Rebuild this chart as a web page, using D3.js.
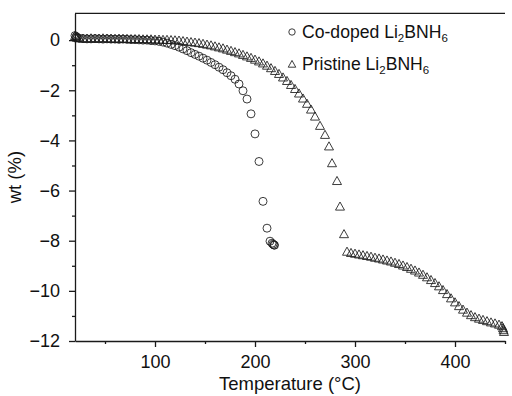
<!DOCTYPE html>
<html>
<head>
<meta charset="utf-8">
<script src="https://cdn.jsdelivr.net/npm/d3@7"></script>
<style>
  html, body { margin: 0; padding: 0; background: #fff; }
  svg { display: block; font-family: "Liberation Sans", Arial, sans-serif; }
</style>
</head>
<body>
<svg id="chart" width="512" height="396"></svg>
<script>
// ---- data ----
const codopedT = [20, 21, 22, 24, 28, 32, 36, 40, 44, 48, 52, 56, 60, 64, 68, 72, 76, 80, 84, 88, 92, 96,
  100, 104, 108, 112, 116, 120, 124, 128, 132, 136, 140, 144, 148, 152, 156, 160, 164, 168, 172, 176,
  180, 184, 188, 192, 196, 200, 204, 208, 212, 215, 217, 218, 219, 219.5];
const codopedWt = [0.18, 0.14, 0.1, 0.08, 0.06, 0.05, 0.05, 0.06, 0.05, 0.04, 0.05, 0.04, 0.04, 0.03, 0.04, 0.03, 0.02, 0.02, 0.01, 0.0, 0.0, -0.02,
  -0.03, -0.05, -0.08, -0.12, -0.17, -0.22, -0.28, -0.35, -0.42, -0.5, -0.57, -0.64, -0.72, -0.8, -0.89, -0.98, -1.08, -1.18, -1.3, -1.42,
  -1.56, -1.75, -2.02, -2.35, -2.94, -3.74, -4.84, -6.43, -7.5, -8.02, -8.1, -8.14, -8.17, -8.18];

const pristineT = [20, 21, 22, 24, 28, 32, 36, 40, 44, 48, 52, 56, 60, 64, 68, 72, 76, 80, 84, 88, 92, 96,
  100, 104, 108, 112, 116, 120, 124, 128, 132, 136, 140, 144, 148, 152, 156, 160, 164, 168, 172, 176,
  180, 184, 188, 192, 196, 200, 204, 208, 212, 216, 220, 224, 228, 232, 236, 240, 244, 248, 252, 256,
  260, 265, 270, 274, 277, 282, 285, 289, 292, 296, 300, 304, 308, 312, 316, 320, 324, 328, 332, 336,
  340, 344, 348, 352, 356, 360, 364, 368, 372, 376, 380, 384, 388, 392, 396, 400, 404, 408, 412, 416,
  420, 424, 428, 432, 436, 440, 444, 447, 448, 448.5, 449];
const pristineWt = [0.15, 0.12, 0.08, 0.06, 0.05, 0.05, 0.06, 0.05, 0.05, 0.06, 0.05, 0.05, 0.04, 0.05, 0.04, 0.04, 0.03, 0.03, 0.03, 0.02, 0.02, 0.02,
  0.01, 0.01, 0.0, 0.0, -0.01, -0.02, -0.03, -0.05, -0.07, -0.09, -0.11, -0.13, -0.16, -0.19, -0.22, -0.26, -0.3, -0.34, -0.39, -0.44,
  -0.49, -0.54, -0.6, -0.66, -0.72, -0.79, -0.86, -0.94, -1.03, -1.13, -1.24, -1.36, -1.5, -1.64, -1.8, -1.96, -2.14, -2.34, -2.55, -2.78,
  -3.06, -3.43, -3.79, -4.25, -4.92, -5.63, -6.65, -7.75, -8.45, -8.5, -8.53, -8.56, -8.59, -8.62, -8.65, -8.69, -8.72, -8.76, -8.8, -8.84,
  -8.89, -8.94, -9.0, -9.06, -9.13, -9.2, -9.28, -9.37, -9.47, -9.58, -9.7, -9.83, -9.98, -10.14, -10.31, -10.47, -10.62, -10.76, -10.88, -10.98,
  -11.06, -11.12, -11.17, -11.22, -11.27, -11.31, -11.36, -11.42, -11.5, -11.58, -11.65];

const xMajorTicks = [100, 200, 300, 400];
const xMinorTicks = [50, 150, 250, 350, 450];
const yMajorTicks = [0, -2, -4, -6, -8, -10, -12];
const yMinorTicks = [-1, -3, -5, -7, -9, -11];
const legendLabels = [
  { name: "Co-doped Li", sub1: "2", mid: "BNH", sub2: "6", shape: "circle" },
  { name: "Pristine Li", sub1: "2", mid: "BNH", sub2: "6", shape: "triangle" }
];

// ---- drawing ----
const svg = d3.select("#chart");
const x = d3.scaleLinear().domain([20, 450]).range([75, 505]);
const y = d3.scaleLinear().domain([-12, 1.07]).range([341, 13.3]);
const axisColor = "#1a1a1a";
const tickFont = 18;
const titleFont = 18.5;
const legendFont = 17.6;

function triPath(s) {
  const h = s * 0.9;
  return `M0,${-h * 0.6}L${s / 2},${h * 0.4}L${-s / 2},${h * 0.4}Z`;
}

// axes
const gx = svg.append("g").attr("transform", `translate(0,${y(-12)})`)
  .call(d3.axisBottom(x).tickValues(xMajorTicks).tickSize(6).tickSizeOuter(0).tickPadding(8).tickFormat(d3.format("d")));
const gxm = svg.append("g").attr("transform", `translate(0,${y(-12)})`)
  .call(d3.axisBottom(x).tickValues(xMinorTicks).tickSize(3).tickSizeOuter(0).tickFormat(""));
const gy = svg.append("g").attr("transform", `translate(${x(20)},0)`)
  .call(d3.axisLeft(y).tickValues(yMajorTicks).tickSize(6).tickSizeOuter(0).tickPadding(9)
    .tickFormat(d => d < 0 ? "\u2212" + Math.abs(d) : String(d)));
const gym = svg.append("g").attr("transform", `translate(${x(20)},0)`)
  .call(d3.axisLeft(y).tickValues(yMinorTicks).tickSize(3).tickSizeOuter(0).tickFormat(""));
gxm.select(".domain").remove();
gym.select(".domain").remove();
[gx, gxm, gy, gym].forEach(g => {
  g.selectAll("path, line").attr("stroke", axisColor).attr("stroke-width", 1.3);
  g.selectAll("text").attr("fill", "#111").attr("font-size", tickFont)
    .attr("font-family", "\"Liberation Sans\", Arial, sans-serif");
});
// top frame line
svg.append("line")
  .attr("x1", x(20)).attr("x2", x(450)).attr("y1", y(1.07)).attr("y2", y(1.07))
  .attr("stroke", axisColor).attr("stroke-width", 1.3);

// axis titles
svg.append("text").attr("x", (x(20) + x(450)) / 2).attr("y", 390)
  .attr("text-anchor", "middle").attr("font-size", titleFont).attr("fill", "#111")
  .text("Temperature (\u00B0C)");
svg.append("text")
  .attr("transform", `translate(21,${(y(-12) + y(1.07)) / 2}) rotate(-90)`)
  .attr("text-anchor", "middle").attr("font-size", titleFont).attr("fill", "#111")
  .text("wt (%)");

// series
const codoped = codopedT.map((t, i) => ({ t, w: codopedWt[i] }));
const pristine = pristineT.map((t, i) => ({ t, w: pristineWt[i] }));
const markerStroke = "#1a1a1a";

svg.append("g").selectAll("path").data(pristine).join("path")
  .attr("d", triPath(9))
  .attr("transform", d => `translate(${x(d.t)},${y(d.w)})`)
  .attr("fill", "none").attr("stroke", markerStroke).attr("stroke-width", 0.85);

svg.append("g").selectAll("circle").data(codoped).join("circle")
  .attr("cx", d => x(d.t)).attr("cy", d => y(d.w)).attr("r", 4)
  .attr("fill", "none").attr("stroke", markerStroke).attr("stroke-width", 0.85);

// legend
const lg = svg.append("g");
legendLabels.forEach((l, i) => {
  const cy = 32 + i * 32;
  if (l.shape === "circle") {
    lg.append("circle").attr("cx", 292).attr("cy", cy).attr("r", 3.2)
      .attr("fill", "none").attr("stroke", markerStroke).attr("stroke-width", 0.85);
  } else {
    lg.append("path").attr("d", triPath(7.5)).attr("transform", `translate(292,${cy + 0.5})`)
      .attr("fill", "none").attr("stroke", markerStroke).attr("stroke-width", 0.85);
  }
  const t = lg.append("text").attr("x", 302).attr("y", cy + 5.5)
    .attr("font-size", legendFont).attr("fill", "#111");
  t.append("tspan").text(l.name);
  t.append("tspan").attr("font-size", 11.5).attr("dy", 4).text(l.sub1);
  t.append("tspan").attr("dy", -4).text(l.mid);
  t.append("tspan").attr("font-size", 11.5).attr("dy", 4).text(l.sub2);
});
</script>
</body>
</html>
